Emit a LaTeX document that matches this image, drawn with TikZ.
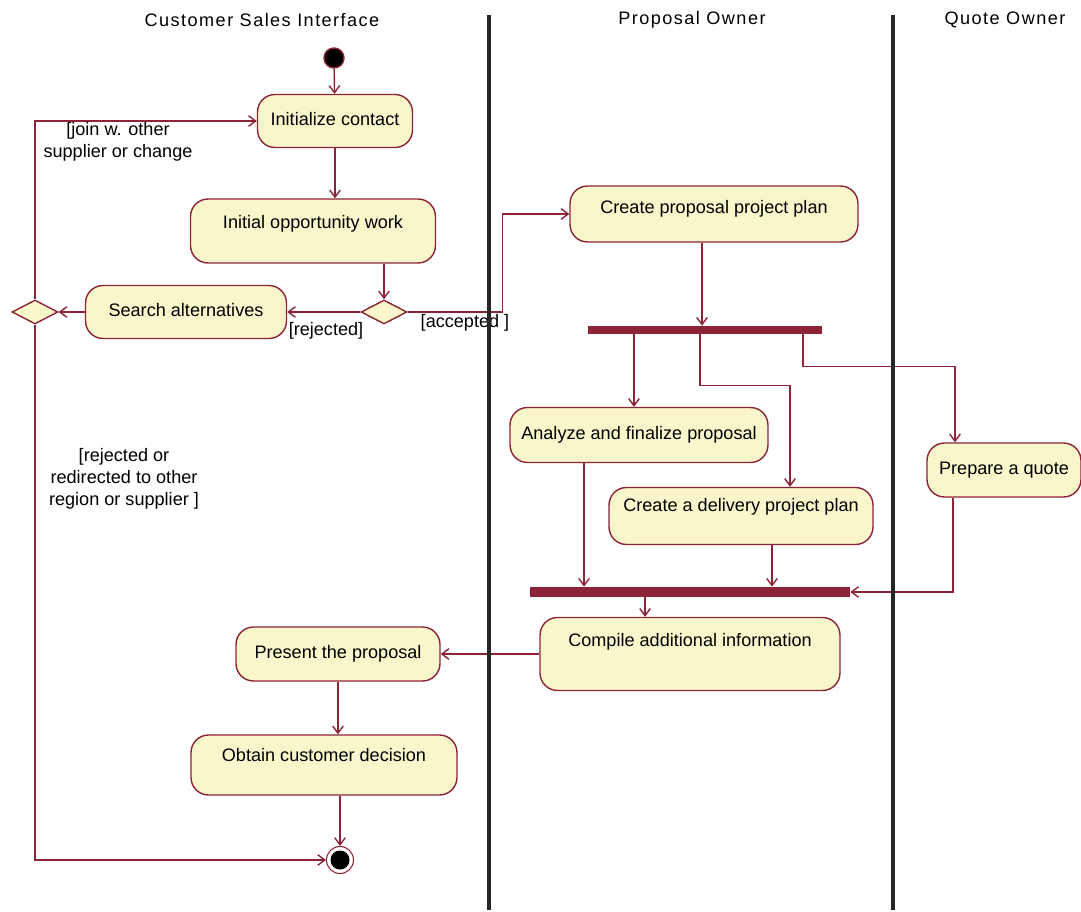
\documentclass[tikz,border=0pt]{standalone}
\usepackage{fontspec}
\setmainfont{Liberation Sans}
\newfontfamily\headfont[LetterSpace=8]{Liberation Sans}
\usetikzlibrary{arrows.meta,shapes.geometric}
\definecolor{umlred}{RGB}{140,35,55}
\definecolor{umlfill}{RGB}{250,246,204}

\begin{document}
\begin{tikzpicture}[x=0.02cm,y=-0.02cm,
    font=\fontsize{10.3}{12.5}\selectfont,
    act/.style={draw=umlred, fill=umlfill, line width=0.8pt, rounded corners=0.35cm,
                text height=7.5pt, text depth=2.5pt},
    choice/.style={diamond, draw=umlred, fill=umlfill, line width=0.8pt, inner sep=0pt,
                   minimum width=0.92cm, minimum height=0.48cm},
    bar/.style={fill=umlred, inner sep=0pt},
    start/.style={circle, fill=black, draw=umlred, line width=0.8pt, minimum size=0.4cm},
    stop/.style={circle, draw=umlred, line width=0.6pt, minimum size=0.54cm,
                 path picture={\fill[black] (path picture bounding box.center) circle (0.19cm);}},
    flow/.style={draw=umlred, line width=0.8pt, -{Straight Barb[length=4pt,width=6pt]}},
    lbl/.style={inner sep=1pt, align=center},
    lane/.style={line width=2.8pt, black!85}]
  \useasboundingbox (0,0) rectangle (1081,912);

  % swimlane headers
  \foreach \x/\t [count=\n] in {262/Customer Sales Interface, 692/Proposal Owner, 1005/Quote Owner} {
    \node[font=\headfont\fontsize{10.3}{12.5}\selectfont] (h\n) at (\x,20) {\t};
  }

  % states
  \node[start] (start) at (334,58) {};
  \node[act, minimum width=3.1cm, minimum height=1.06cm] (init) at (335,121) {Initialize contact};
  \node[act, minimum width=4.9cm, minimum height=1.28cm, text depth=10.5pt] (opp) at (313,231) {Initial opportunity work};
  \node[choice] (dec1) at (384,312) {};
  \node[act, minimum width=4.02cm, minimum height=1.06cm] (search) at (186,312) {Search alternatives};
  \node[choice] (dec2) at (35,312) {};
  \node[act, minimum width=5.76cm, minimum height=1.12cm, text depth=8.3pt] (cpp) at (714,214) {Create proposal project plan};
  \node[bar, minimum width=4.68cm, minimum height=0.16cm] (fork) at (705,330) {};
  \node[act, minimum width=5.16cm, minimum height=1.1cm] (afp) at (639,435) {Analyze and finalize proposal};
  \node[act, minimum width=5.28cm, minimum height=1.14cm, text depth=12.3pt] (cdp) at (741,516) {Create a delivery project plan};
  \node[act, minimum width=3.08cm, minimum height=1.08cm] (paq) at (1004,470) {Prepare a quote};
  \node[bar, minimum width=6.4cm, minimum height=0.2cm] (join) at (690,592) {};
  \node[act, minimum width=6cm, minimum height=1.46cm, text depth=15.7pt] (cai) at (690,654) {Compile additional information};
  \node[act, minimum width=4.08cm, minimum height=1.08cm] (ptp) at (338,654) {Present the proposal};
  \node[act, minimum width=5.32cm, minimum height=1.2cm, text depth=11.7pt] (ocd) at (324,765) {Obtain customer decision};
  \node[stop] (stop) at (340,860) {};

  % guards
  \node[lbl] (lrej) at (326,331) {[rejected]};
  \node[lbl] (lacc) at (465,323) {[accepted ]};
  \node[lbl] (ljoin) at (118,142) {[join w. other\\supplier or change};
  \node[lbl] (lredir) at (124,479) {[rejected or\\redirected to other\\region or supplier ]};

  % transitions
  \draw[flow] (start) -- (init);
  \draw[flow] (init.south) -- (init.south |- opp.north);
  \draw[flow] (opp.south -| dec1.north) -- (dec1.north);
  \draw[flow] (dec1.west) -- (search.east);
  \draw[flow] (dec1.east) -- ++(95,0) |- (cpp.west);
  \draw[flow] (search.west) -- (dec2.east);
  \draw[flow] (dec2.north) |- (init.west);
  \draw[flow] (dec2.south) |- (stop.west);
  \draw[flow] ([xshift=-0.24cm]cpp.south) -- ([xshift=-0.24cm]cpp.south |- fork.north);
  \draw[flow] ([xshift=-1.42cm]fork.south) -- ([xshift=-1.42cm]fork.south |- afp.north);
  \draw[flow] ([xshift=-0.1cm]fork.south) -- ++(0,51) -| ([xshift=0.98cm]cdp.north);
  \draw[flow] ([xshift=1.96cm]fork.south) -- ++(0,32) -| ([xshift=-0.98cm]paq.north);
  \draw[flow] ([xshift=-1.1cm]afp.south) -- ([xshift=-1.1cm]afp.south |- join.north);
  \draw[flow] ([xshift=0.62cm]cdp.south) -- ([xshift=0.62cm]cdp.south |- join.north);
  \draw[flow] ([xshift=-1.02cm]paq.south) |- (join.east);
  \draw[flow] ([xshift=-0.9cm]join.south) -- ([xshift=-0.9cm]join.south |- cai.north);
  \draw[flow] (cai.west) -- (ptp.east);
  \draw[flow] (ptp.south) -- (ptp.south |- ocd.north);
  \draw[flow] (ocd.south -| stop.north) -- (stop.north);

  % swimlane borders
  \foreach \x in {489,893} {
    \draw[lane] (\x,15) -- (\x,910);
  }
\end{tikzpicture}
\end{document}
